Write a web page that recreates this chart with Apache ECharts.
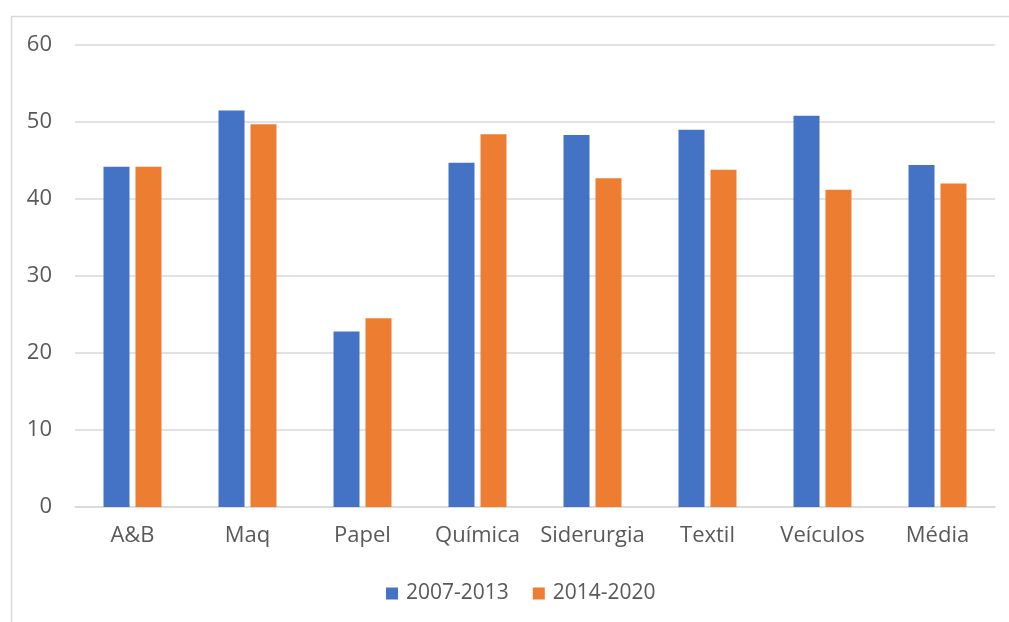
<!DOCTYPE html>
<html><head><meta charset="utf-8">
<script src="https://cdn.jsdelivr.net/npm/echarts@6/dist/echarts.min.js"></script>
<style>html,body{margin:0;padding:0;background:#fff}#c{width:1009px;height:622px}</style>
</head><body><div id="c"></div>
<script>
const categories = ['A&B','Maq','Papel','Química','Siderurgia','Textil','Veículos','Média'];
const seriesNames = ['2007-2013','2014-2020'];
const values2007 = [44.2, 51.5, 22.8, 44.7, 48.3, 49.0, 50.8, 44.4];
const values2014 = [44.2, 49.7, 24.5, 48.4, 42.7, 43.8, 41.2, 42.0];
const yTicks = [0,10,20,30,40,50,60];

const textColor = '#595959';
const fontFamily = 'Open Sans';
const chart = echarts.init(document.getElementById('c'));
chart.setOption({
  animation:false,
  backgroundColor:'#fff',
  textStyle:{fontFamily:fontFamily},
  graphic:[{type:'rect',shape:{x:11.5,y:16.5,width:1100,height:700},style:{fill:null,stroke:'#d9d9d9',lineWidth:1.5},z:-1}],
  grid:{left:75,right:14,top:45,bottom:115,containLabel:false},
  legend:{bottom:13,left:381,itemWidth:12,itemHeight:12,itemGap:24,icon:'rect',
    textStyle:{color:textColor,fontSize:21,fontFamily:fontFamily,padding:[0,0,0,3]},data:seriesNames},
  xAxis:{type:'category',data:categories,
    axisLine:{lineStyle:{color:'#d9d9d9',width:1.5}},axisTick:{show:false},
    axisLabel:{color:textColor,fontSize:22,fontFamily:fontFamily,margin:18,interval:0}},
  yAxis:{type:'value',min:yTicks[0],max:yTicks[yTicks.length-1],interval:10,
    axisLine:{show:false},axisTick:{show:false},
    splitLine:{lineStyle:{color:'#d9d9d9',width:1.5}},
    axisLabel:{color:textColor,fontSize:22,fontFamily:fontFamily,margin:23}},
  series:[
    {name:seriesNames[0],type:'bar',data:values2007,barWidth:26,barGap:'23%',itemStyle:{color:'#4472c4'}},
    {name:seriesNames[1],type:'bar',data:values2014,barWidth:26,itemStyle:{color:'#ed7d31'}}
  ]
});
</script></body></html>
